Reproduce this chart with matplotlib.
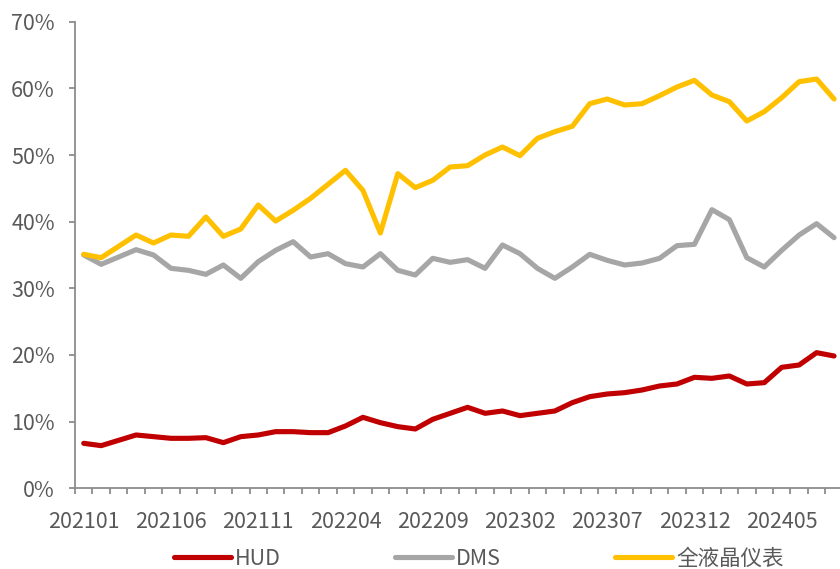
import matplotlib.pyplot as plt
from matplotlib.ticker import FixedLocator, PercentFormatter

plt.rcParams['font.family'] = ['Noto Sans CJK SC', 'DejaVu Sans']

# Monthly penetration rates, 202101 - 202408
months = [f"{y}{m:02d}" for y in (2021, 2022, 2023, 2024) for m in range(1, 13)][:44]

hud = [6.75, 6.4, 7.2, 8.0, 7.75, 7.5, 7.5, 7.6, 6.85, 7.75,
       8.0, 8.5, 8.5, 8.35, 8.35, 9.35, 10.65, 9.85, 9.25, 8.9,
       10.35, 11.25, 12.15, 11.25, 11.6, 10.9, 11.25, 11.6, 12.85, 13.75,
       14.15, 14.35, 14.75, 15.35, 15.65, 16.65, 16.5, 16.85, 15.65, 15.85,
       18.15, 18.5, 20.35, 19.85]

dms = [35.0, 33.6, 34.7, 35.8, 35.0, 33.0, 32.7, 32.1, 33.5, 31.5,
       34.0, 35.7, 37.0, 34.7, 35.2, 33.7, 33.2, 35.2, 32.7, 32.0,
       34.5, 33.9, 34.3, 33.0, 36.5, 35.2, 33.0, 31.5, 33.2, 35.1,
       34.2, 33.5, 33.8, 34.5, 36.4, 36.6, 41.8, 40.3, 34.6, 33.2,
       35.7, 38.0, 39.7, 37.6]

lcd = [35.1, 34.6, 36.3, 38.0, 36.8, 38.0, 37.8, 40.7, 37.8, 38.9,
       42.5, 40.1, 41.7, 43.5, 45.6, 47.7, 44.7, 38.3, 47.2, 45.1,
       46.2, 48.2, 48.4, 50.0, 51.2, 49.9, 52.5, 53.5, 54.3, 57.7,
       58.4, 57.5, 57.7, 58.9, 60.2, 61.2, 59.0, 58.0, 55.1, 56.5,
       58.6, 61.0, 61.4, 58.4]

series = [("HUD", hud, "#C00000"),
          ("DMS", dms, "#A6A6A6"),
          ("全液晶仪表", lcd, "#FFC000")]

axis_grey = "#8C8C8C"
text_grey = "#595959"
fs = 15.5

fig = plt.figure(figsize=(8.4, 5.69), dpi=100)
ax = fig.add_axes([0.0893, 0.1418, 0.914, 0.8201])

x = list(range(len(months)))
for label, vals, color in series:
    ax.plot(x, [v / 100 for v in vals], color=color, lw=3.7,
            solid_joinstyle='round', solid_capstyle='round', label=label)

ax.set_xlim(-0.5, len(months) - 0.5)
ax.set_ylim(0, 0.7)
ax.set_yticks([i / 10 for i in range(8)])
ax.yaxis.set_major_formatter(PercentFormatter(1.0, decimals=0))

# labels every 5 months, tick marks on category boundaries
ax.set_xticks(x[::5])
ax.set_xticklabels(months[::5])
ax.xaxis.set_minor_locator(FixedLocator([i - 0.5 for i in range(len(months) + 1)]))
ax.tick_params(axis='x', which='major', length=0, pad=16,
               labelsize=fs, labelcolor=text_grey)
ax.tick_params(axis='x', which='minor', length=4, width=1.3,
               color=axis_grey, direction='out')
ax.tick_params(axis='y', length=4.5, width=1.3, color=axis_grey,
               pad=10, labelsize=fs, labelcolor=text_grey)

for side in ("top", "right"):
    ax.spines[side].set_visible(False)
for side in ("left", "bottom"):
    ax.spines[side].set_color(axis_grey)
    ax.spines[side].set_linewidth(1.3)

fig.legend(loc='center', bbox_to_anchor=(0.57, 0.0176), ncol=3,
           frameon=False, fontsize=fs, handlelength=2.65,
           handletextpad=0.2, columnspacing=5.3, borderpad=0,
           labelcolor=text_grey)

fig.savefig("out.png", dpi=100)
